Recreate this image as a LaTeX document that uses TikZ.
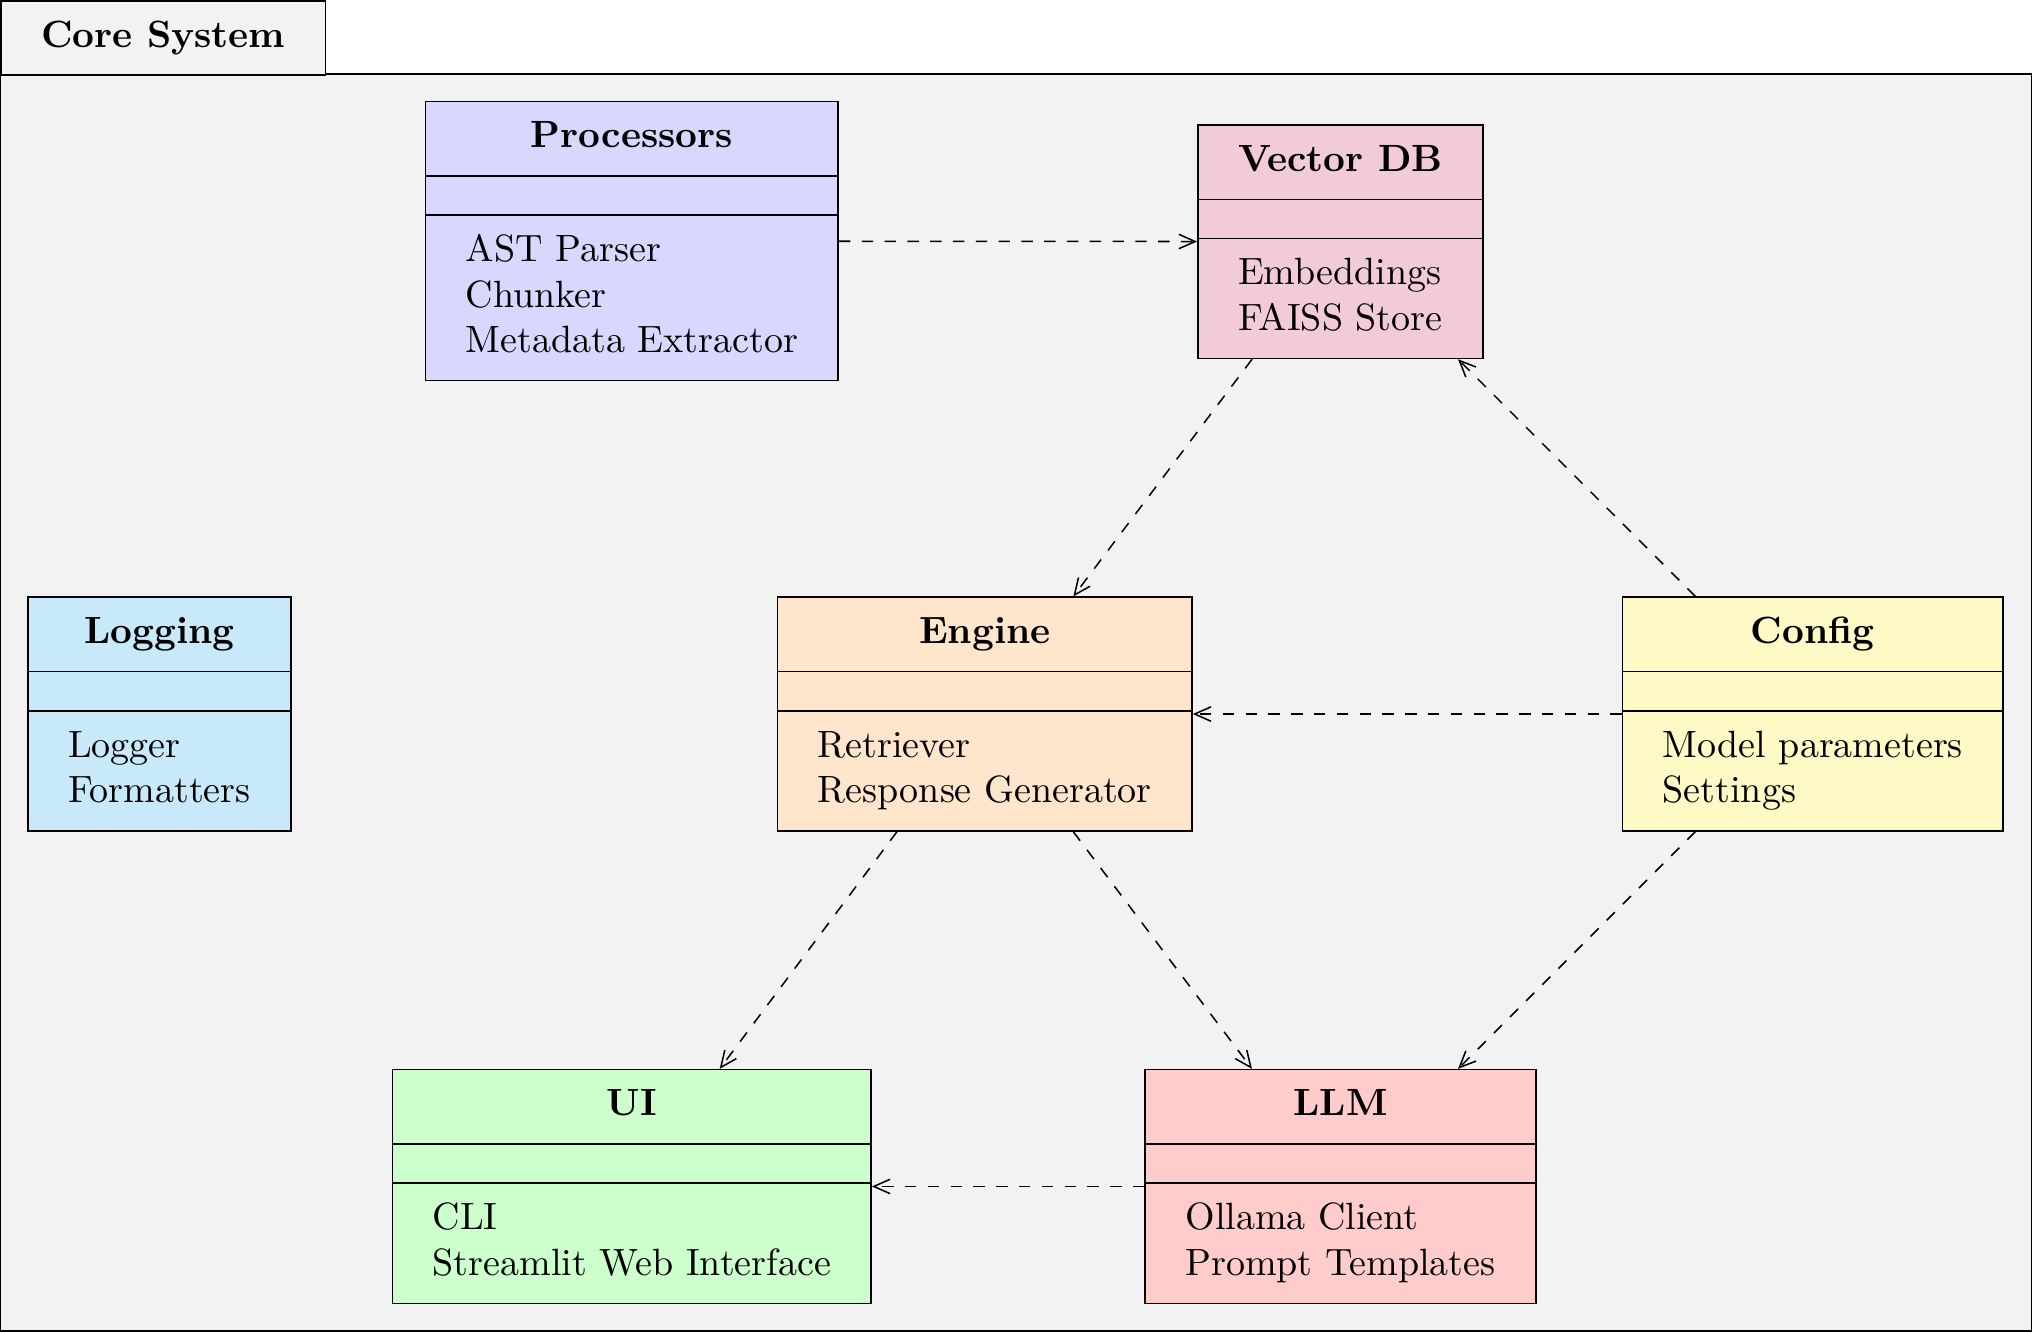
\documentclass[tikz,border=0pt]{standalone}
\usepackage{tikz}
\usetikzlibrary{shapes.multipart, arrows.meta}

\definecolor{framefill}{RGB}{242,242,242}
\definecolor{procfill}{RGB}{216,216,255}
\definecolor{vdbfill}{RGB}{242,203,216}
\definecolor{logfill}{RGB}{199,233,250}
\definecolor{engfill}{RGB}{255,229,204}
\definecolor{cfgfill}{RGB}{255,250,197}
\definecolor{uifill}{RGB}{204,255,204}
\definecolor{llmfill}{RGB}{255,204,204}

\newcommand{\emptyrow}{\rule{0pt}{2.7pt}\kern0.1pt}

\tikzset{
  classbox/.style={rectangle split, rectangle split parts=3, draw,
    inner xsep=10.6pt, inner ysep=3.6pt,
    rectangle split part align={center,left,left}},
  dep/.style={-{Straight Barb[length=4.3pt,width=3.8pt]}, dashed}
}

\begin{document}
\begin{tikzpicture}
    \useasboundingbox (0,0) rectangle (18.797,-12.322);
    % Package frame
    \draw[fill=framefill] (0,-0.685) rectangle (18.79,-12.313);
    \node[draw, fill=framefill, anchor=north west, minimum width=3.006cm, minimum height=0.685cm] (tab) at (0,0) {\textbf{Core System}};
    % Classes
    \node[classbox, fill=procfill] (proc) at (5.845,-2.23)
        {\begin{tabular}{@{}c@{}}\textbf{Processors}\end{tabular}\nodepart{second}\emptyrow\nodepart{third}\begin{tabular}{@{}l@{}}AST Parser\\ Chunker\\ Metadata Extractor\end{tabular}};
    \node[classbox, fill=vdbfill] (vdb) at (12.40,-2.235)
        {\begin{tabular}{@{}c@{}}\textbf{Vector DB}\end{tabular}\nodepart{second}\emptyrow\nodepart{third}\begin{tabular}{@{}l@{}}Embeddings\\ FAISS Store\end{tabular}};
    \node[classbox, fill=logfill] (log) at (1.475,-6.605)
        {\begin{tabular}{@{}c@{}}\textbf{Logging}\end{tabular}\nodepart{second}\emptyrow\nodepart{third}\begin{tabular}{@{}l@{}}Logger\\ Formatters\end{tabular}};
    \node[classbox, fill=engfill] (eng) at (9.11,-6.605)
        {\begin{tabular}{@{}c@{}}\textbf{Engine}\end{tabular}\nodepart{second}\emptyrow\nodepart{third}\begin{tabular}{@{}l@{}}Retriever\\ Response Generator\end{tabular}};
    \node[classbox, fill=cfgfill] (cfg) at (16.77,-6.605)
        {\begin{tabular}{@{}c@{}}\textbf{Config}\end{tabular}\nodepart{second}\emptyrow\nodepart{third}\begin{tabular}{@{}l@{}}Model parameters\\ Settings\end{tabular}};
    \node[classbox, fill=uifill] (ui) at (5.845,-10.975)
        {\begin{tabular}{@{}c@{}}\textbf{UI}\end{tabular}\nodepart{second}\emptyrow\nodepart{third}\begin{tabular}{@{}l@{}}CLI\\ Streamlit Web Interface\end{tabular}};
    \node[classbox, fill=llmfill] (llm) at (12.40,-10.975)
        {\begin{tabular}{@{}c@{}}\textbf{LLM}\end{tabular}\nodepart{second}\emptyrow\nodepart{third}\begin{tabular}{@{}l@{}}Ollama Client\\ Prompt Templates\end{tabular}};
    % Dependencies
    \draw[dep] (proc) -- (vdb);
    \draw[dep] (vdb) -- (eng);
    \draw[dep] (cfg) -- (vdb);
    \draw[dep] (cfg) -- (eng);
    \draw[dep] (cfg) -- (llm);
    \draw[dep] (eng) -- (ui);
    \draw[dep] (eng) -- (llm);
    \draw[dep] (llm) -- (ui);
\end{tikzpicture}
\end{document}
